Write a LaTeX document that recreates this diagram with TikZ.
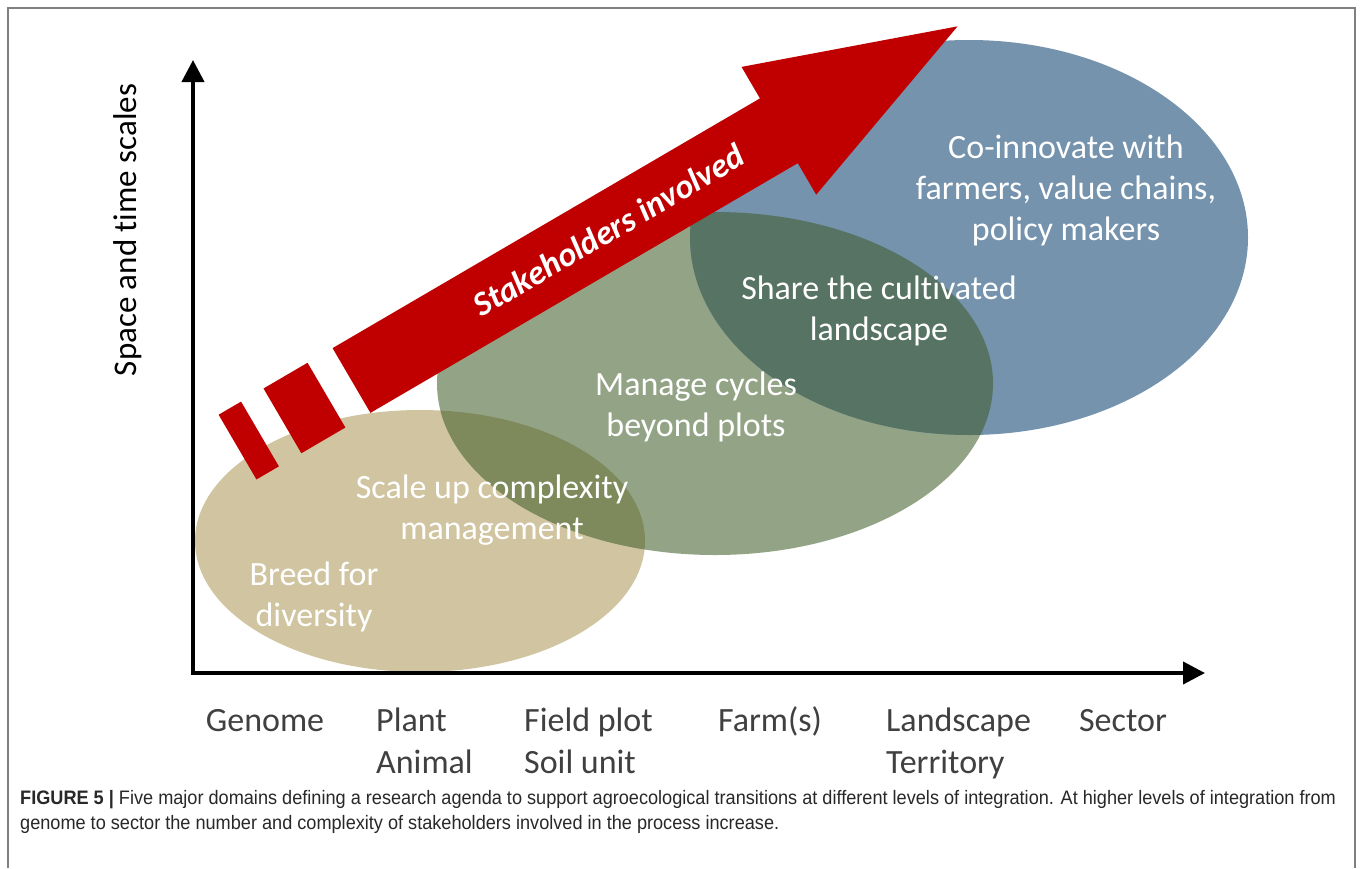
\documentclass[tikz,border=0pt]{standalone}
\usepackage{fontspec}
\setmainfont{Carlito}[Ligatures=NoCommon]
\newfontfamily\capfont{Liberation Sans}[FakeStretch=0.93]
\usetikzlibrary{arrows.meta}
\definecolor{tanc}{RGB}{208,197,160}
\definecolor{greenc}{RGB}{147,164,134}
\definecolor{bluec}{RGB}{117,147,173}
\definecolor{tgover}{RGB}{126,138,92}
\definecolor{gbover}{RGB}{86,115,99}
\definecolor{redc}{RGB}{192,0,0}
\definecolor{labelc}{RGB}{64,64,64}
\definecolor{framec}{RGB}{128,128,128}
\definecolor{capc}{RGB}{40,40,40}
\begin{document}
\begin{tikzpicture}[x=1pt,y=-1pt,
  domtext/.style={text=white, align=center, inner sep=0pt, font=\fontsize{34}{41}\selectfont},
  scalelab/.style={text=labelc, inner sep=0pt, font=\fontsize{34}{42}\selectfont},
  stakelab/.style={text=white, inner sep=0pt, font=\fontsize{34}{41}\selectfont\bfseries\itshape},
  axisline/.style={line width=4pt, line join=miter, {Triangle[length=22pt,width=22pt]}-{Triangle[length=22pt,width=22pt]}},
  captext/.style={text=capc, inner sep=0pt, anchor=base west, font=\capfont\fontsize{19.5}{25}\selectfont}]
\useasboundingbox (0,0) rectangle (1360,868);
\fill[white] (0,0) rectangle (1360,868);
\draw[framec, line width=1.5pt] (8,868) -- (8,8) -- (1355,8) -- (1355,868);
% domains
\fill[tanc] (420,541) ellipse [x radius=225pt, y radius=131pt];
\fill[greenc] (715,383.5) ellipse [x radius=278pt, y radius=171.5pt];
\fill[bluec] (969,237.5) ellipse [x radius=279pt, y radius=197.5pt];
\begin{scope}
  \clip (715,383.5) ellipse [x radius=278pt, y radius=171.5pt];
  \fill[tgover] (420,541) ellipse [x radius=225pt, y radius=131pt];
  \fill[gbover] (969,237.5) ellipse [x radius=279pt, y radius=197.5pt];
\end{scope}
% axes
\coordinate (ytop) at (193,60);
\coordinate (orig) at (193,673);
\coordinate (xend) at (1205,673);
\draw[axisline] (ytop) -- (orig) -- (xend);
% stakeholders arrow
\begin{scope}[shift={(351.5,380.5)}, rotate=30.3]
  \fill[redc] (-132,-37.5) rectangle (-106,37.5);
  \fill[redc] (-80,-37.5) rectangle (-29,37.5);
  \fill[redc] (0,-37.5) -- (495,-37.5) -- (495,-74) -- (702,0) -- (495,74) -- (495,37.5) -- (0,37.5) -- cycle;
  \node[stakelab, rotate=30.3] (stake) at (298,0) {Stakeholders involved};
\end{scope}
% domain texts
\node[domtext] (breed) at (314,597) {Breed for\\diversity};
\node[domtext] (scale) at (492,510) {Scale up complexity\\management};
\node[domtext] (cycles) at (696,407) {Manage cycles\\beyond plots};
\node[domtext] (share) at (879,311) {Share the cultivated\\landscape};
\node[domtext] (coinn) at (1066,190) {Co-innovate with\\farmers, value chains,\\policy makers};
% axis labels
\node[rotate=90, inner sep=0pt, font=\fontsize{33}{40}\selectfont] (ylab) at (128,230) {Space and time scales};
\node[scalelab] (genome) at (265,721) {Genome};
\node[scalelab, align=left, anchor=west] (plant) at (376,741) {Plant\\Animal};
\node[scalelab, align=left, anchor=west] (field) at (524,741) {Field plot\\Soil unit};
\node[scalelab] (farm) at (770,721) {Farm(s)};
\node[scalelab, align=left, anchor=west] (land) at (886,743) {Landscape\\Territory};
\node[scalelab] (sector) at (1123,721) {Sector};
% caption
\node[captext] (cap1) at (20,804) {\textbf{FIGURE 5 |} Five major domains defining a research agenda to support agroecological transitions at different levels of integration. At higher levels of integration from};
\node[captext] (cap2) at (20,829) {genome to sector the number and complexity of stakeholders involved in the process increase.};
\end{tikzpicture}
\end{document}
